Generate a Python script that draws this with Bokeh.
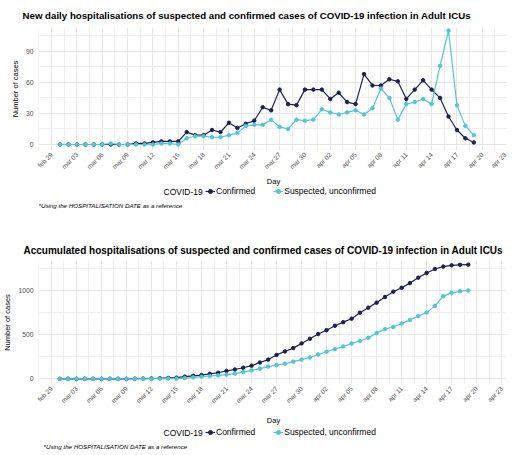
import pandas as pd
from bokeh.plotting import figure
from bokeh.models import Range1d, FixedTicker, Legend, LegendItem, Label
from bokeh.layouts import column
from bokeh.embed import file_html
from bokeh.resources import INLINE

FONT = "Liberation Sans"
DARK = "#1d2050"
LIGHT = "#4ec5da"

dates = pd.date_range("2020-03-01", "2020-04-19", freq="D")
ref = pd.Timestamp("2020-02-29")
x_days = [int((d - ref).days) for d in dates]

confirmed_daily = [0, 0, 0, 0, 0, 0, 0, 0, 0, 1, 1, 2, 3, 3, 3, 12, 9, 9, 14, 12,
                   21, 16, 20, 23, 36, 33, 53, 39, 38, 53, 53, 53, 44, 50, 41, 39,
                   68, 57, 57, 63, 61, 44, 53, 62, 53, 45, 27, 14, 6, 2]
suspected_daily = [0, 0, 0, 0, 0, 0, 1, 0, 0, 0, 0, 0, 1, 1, 0, 6, 8, 8, 7, 7,
                   9, 11, 18, 19, 19, 24, 17, 15, 24, 23, 24, 34, 31, 29, 31, 33,
                   29, 35, 54, 45, 24, 39, 41, 44, 39, 76, 110, 38, 18, 9]
confirmed_cum = [0, 0, 0, 0, 0, 0, 0, 0, 0, 1, 2, 4, 7, 10, 13, 25, 34, 43, 57, 69,
                 90, 106, 126, 149, 185, 218, 271, 310, 348, 401, 454, 507, 551, 601,
                 642, 681, 749, 806, 863, 926, 987, 1031, 1084, 1146, 1199, 1244,
                 1271, 1285, 1291, 1293]
suspected_cum = [0, 0, 0, 0, 0, 0, 1, 1, 1, 1, 1, 1, 2, 3, 3, 9, 17, 25, 32, 39,
                 48, 59, 77, 96, 115, 139, 156, 171, 195, 218, 242, 276, 307, 336,
                 367, 400, 429, 464, 518, 563, 587, 626, 667, 711, 750, 826, 936,
                 974, 992, 1001]

tick_days = list(range(0, 55, 3))
tick_labels = ["feb 29", "mar 03", "mar 06", "mar 09", "mar 12", "mar 15", "mar 18",
               "mar 21", "mar 24", "mar 27", "mar 30", "apr 02", "apr 05", "apr 08",
               "apr 11", "apr 14", "apr 17", "apr 20", "apr 23"]
series_names = ["Confirmed", "Suspected, unconfirmed"]
legend_title = "COVID-19"
x_title = "Day"
y_title = "Number of cases"
caption = "*Using the HOSPITALISATION DATE as a reference"
title_daily = "New daily hospitalisations of suspected and confirmed cases of COVID-19 infection in Adult ICUs"
title_cum = "Accumulated hospitalisations of suspected and confirmed cases of COVID-19 infection in Adult ICUs"


def make_chart(title, yc, ys, yrange, yticks, yminor, fw, fh, top, left, bottom,
               title_size, title_offset, title_standoff):
    p = figure(frame_width=fw, frame_height=fh, output_backend="svg",
               toolbar_location=None,
               x_range=Range1d(-1.55, 54.58), y_range=Range1d(*yrange),
               min_border_left=left, min_border_right=2, min_border_top=top,
               min_border_bottom=bottom)
    p.title.text = title
    p.title.text_font = FONT
    p.title.text_font_size = title_size
    p.title.text_font_style = "bold"
    p.title.text_color = "#000000"
    p.title.align = "left"
    p.title.offset = title_offset
    p.title.standoff = title_standoff
    p.outline_line_color = None

    p.xaxis.ticker = FixedTicker(ticks=tick_days,
                                 minor_ticks=[t + 1.5 for t in range(-3, 55, 3)])
    p.xaxis.major_label_overrides = {t: l for t, l in zip(tick_days, tick_labels)}
    p.xaxis.major_label_orientation = 0.785398
    p.yaxis.ticker = FixedTicker(ticks=yticks, minor_ticks=yminor)
    p.yaxis.axis_label = y_title
    for ax in (p.xaxis, p.yaxis):
        ax.axis_line_color = None
        ax.major_tick_line_color = None
        ax.minor_tick_line_color = None
        ax.major_tick_out = 0
        ax.major_tick_in = 0
        ax.minor_tick_out = 0
        ax.minor_tick_in = 0
        ax.major_label_text_font = FONT
        ax.major_label_text_color = "#4d4d4d"
        ax.axis_label_text_font = FONT
        ax.axis_label_text_font_size = "7.5px"
        ax.axis_label_text_font_style = "normal"
        ax.axis_label_text_color = "#000000"
    p.yaxis.major_label_text_font_size = "6.8px"
    p.xaxis.major_label_text_font_size = "6.5px"
    p.yaxis.major_label_standoff = 5
    p.yaxis.axis_label_standoff = 3
    p.xaxis.major_label_standoff = 3
    for g in (p.xgrid, p.ygrid):
        g.grid_line_color = "#e6e6e6"
        g.minor_grid_line_color = "#eeeeee"

    p.line(x_days, yc, color=DARK, line_width=1.2)
    p.scatter(x_days, yc, color=DARK, size=3.5)
    p.line(x_days, ys, color=LIGHT, line_width=1.2)
    p.scatter(x_days, ys, color=LIGHT, size=3.5)
    return p


def make_legend(h, yc, ys, day_y, leg_c, cap_x, cap_y):
    # legend strip: the series renderers lie outside this strip's visible range,
    # so only their legend glyphs show
    q = figure(frame_width=504, frame_height=h, output_backend="svg",
               toolbar_location=None, x_axis_location=None, y_axis_location=None,
               x_range=Range1d(1000, 1504), y_range=Range1d(5000, 5000 + h),
               min_border=0, min_border_left=0, min_border_right=0,
               min_border_top=0, min_border_bottom=0)
    q.outline_line_color = None
    q.xgrid.visible = False
    q.ygrid.visible = False
    l1 = q.line(x_days, yc, color=DARK, line_width=1.2)
    s1 = q.scatter(x_days, yc, color=DARK, size=3.5)
    l2 = q.line(x_days, ys, color=LIGHT, line_width=1.2)
    s2 = q.scatter(x_days, ys, color=LIGHT, size=3.5)
    legend = Legend(items=[LegendItem(label=series_names[0], renderers=[l1, s1]),
                           LegendItem(label=series_names[1], renderers=[l2, s2])],
                    orientation="horizontal", location=(205, h - leg_c - 5),
                    label_text_font=FONT, label_text_font_size="8.5px",
                    label_text_color="#000000", label_height=10,
                    label_standoff=1, glyph_width=10, glyph_height=10, spacing=18,
                    padding=0, margin=0, border_line_color=None,
                    background_fill_alpha=0)
    q.add_layout(legend, "center")
    common = dict(x_units="screen", y_units="screen", text_font=FONT,
                  text_color="#000000", text_baseline="middle")
    q.add_layout(Label(x=125, y=h - leg_c, text=legend_title,
                       text_font_size="8.5px", **common))
    q.add_layout(Label(x=235, y=h - day_y, text=x_title, text_font_size="7.5px",
                       text_align="center", **common))
    q.add_layout(Label(x=cap_x, y=h - cap_y, text=caption, text_font_size="6.2px",
                       text_font_style="italic", **common))
    return q


p1 = make_chart(title_daily, confirmed_daily, suspected_daily, (-5.8, 113),
                [0, 30, 60, 90], [15, 45, 75, 105],
                474, 123, 27, 28, 27, "9.7px", -16, 13)
q1 = make_legend(35, confirmed_daily, suspected_daily, 4, 14, 0, 28)
p2 = make_chart(title_cum, confirmed_cum, suspected_cum, (-64, 1340),
                [0, 500, 1000], [250, 750, 1250],
                468, 124, 48, 34, 27, "10px", -15, 10)
q2 = make_legend(44, confirmed_cum, suspected_cum, 9, 21, 5, 35)

page = column(p1, q1, p2, q2, spacing=0)
open("out.html", "w").write(file_html(page, INLINE))
